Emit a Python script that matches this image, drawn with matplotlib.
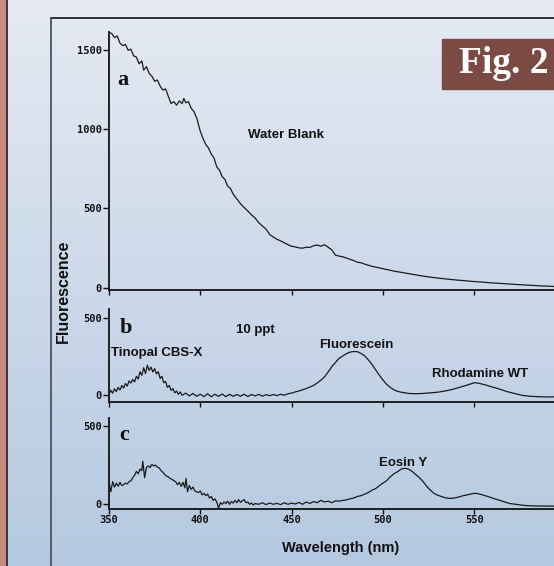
import numpy as np
import matplotlib
matplotlib.use('Agg')
import matplotlib.pyplot as plt
from matplotlib.patches import Rectangle
from matplotlib.lines import Line2D

W, H = 554, 566

# panel a: water blank
wl_a = [350, 351.5, 353, 354.5, 356, 357.5, 359, 360.5, 362, 363.5, 365, 366.5, 368, 369, 370.5,
        372, 373.5, 375, 376.5, 378, 379.5, 381, 382.5, 384, 385.5, 387, 388.5, 390, 391, 392,
        393.5, 395, 396.5, 398, 400, 401.5, 403, 404.5, 406, 407.5, 409, 410.5, 412, 413.5, 415,
        416.5, 418, 420, 422, 424, 426, 428, 430, 432, 434, 436, 438, 440, 442, 444, 446, 448,
        450, 452, 454, 456, 458, 460, 462, 464, 466, 468, 470, 472, 474, 476, 478, 480, 482,
        484, 486, 488, 490, 494, 498, 502, 506, 510, 514, 518, 522, 526, 530, 534, 538, 542,
        546, 550, 554, 558, 562, 566, 570, 574, 578, 582, 586, 590, 594, 600]
val_a = [1610, 1600, 1575, 1585, 1540, 1525, 1532, 1495, 1502, 1460, 1452, 1410, 1428, 1370, 1392,
         1350, 1332, 1300, 1308, 1270, 1245, 1252, 1205, 1160, 1172, 1150, 1176, 1160, 1192, 1165,
         1172, 1130, 1110, 1070, 985, 940, 902, 880, 842, 818, 762, 740, 700, 682, 640,
         626, 590, 560, 530, 506, 484, 460, 440, 410, 390, 370, 336, 320, 306, 296, 284, 272,
         262, 258, 252, 250, 256, 255, 265, 270, 262, 272, 256, 240, 206, 200, 196, 188, 180,
         172, 162, 158, 150, 136, 126, 116, 106, 98, 90, 82, 74, 68, 62, 57, 52, 48,
         44, 40, 37, 33, 30, 27, 24, 21, 18, 16, 13, 11, 9, 7]

# panel b: 10 ppt mixture
wl_b = [350, 351, 352, 353, 354, 355, 356, 357, 358, 359, 360, 361, 362, 363, 364, 365, 366, 367,
        368, 369, 370, 371, 372, 373, 374, 375, 376, 377, 378, 379, 380, 381, 382, 383, 384, 385,
        386, 387, 388, 389, 390, 392, 394, 396, 398, 400, 402, 404, 406, 408, 410, 412, 414, 416,
        418, 420, 422, 424, 426, 428, 430, 432, 434, 436, 438, 440, 442, 444, 446, 448, 450, 452,
        454, 456, 458, 460, 462, 464, 466, 468, 470, 472, 474, 476, 478, 480, 482, 484, 486, 488,
        490, 492, 494, 496, 498, 500, 502, 504, 506, 508, 510, 514, 518, 522, 526, 530, 534, 538,
        542, 546, 548, 550, 552, 556, 560, 564, 568, 572, 576, 580, 584, 590, 596]
val_b = [5, 30, 12, 40, 22, 50, 32, 62, 45, 75, 58, 92, 78, 102, 85, 122, 104, 152,
         128, 178, 140, 195, 160, 182, 150, 172, 138, 152, 108, 122, 80, 88, 50, 62, 30, 42,
         14, 26, 4, 20, -2, 12, -6, 10, -9, 5, -11, 8, -12, 5, -9, 6, -11, 4,
         -9, 3, -8, 5, -10, 3, -6, 4, -8, 2, -5, 3, -4, 5, -2, 8, 12, 20,
         26, 34, 42, 52, 62, 78, 96, 118, 150, 185, 212, 240, 254, 270, 280, 284, 283, 272,
         256, 230, 200, 165, 130, 98, 70, 50, 34, 24, 18, 10, 8, 10, 14, 18, 26, 36,
         50, 64, 72, 80, 78, 66, 52, 38, 22, 10, -2, -8, -11, -13, -12]

# panel c: eosin Y
wl_c = [350, 351, 352, 353, 354, 355, 356, 357, 358, 359, 360, 361, 362, 363, 364, 365, 366, 367,
        368, 368.5, 369.5, 370.5, 371.5, 372.5, 373.5, 374.5, 375.5, 376.5, 377.5, 378.5, 379.5,
        380.5, 381.5, 382.5, 383.5, 384.5, 385.5, 386.5, 387.5, 388.5, 389.5, 390.5, 391.5, 392.2,
        393, 394, 395, 396, 397, 398, 399, 400, 401, 402, 403, 404, 405, 406, 407, 408, 409, 410,
        411, 412, 413, 414, 415, 416, 417, 418, 419, 420, 421, 422, 423, 424, 425, 426, 427, 428,
        429, 430, 432, 434, 436, 438, 440, 442, 444, 446, 448, 450, 452, 454, 456, 458, 460, 462,
        464, 466, 468, 470, 472, 474, 476, 478, 480, 482, 484, 486, 488, 490, 492, 494, 496, 498,
        500, 502, 504, 506, 508, 510, 512, 514, 516, 518, 520, 522, 524, 526, 528, 530, 532, 534,
        536, 538, 540, 542, 544, 546, 548, 550, 552, 554, 556, 558, 560, 562, 564, 566, 568, 570,
        574, 578, 582, 586, 590, 596]
val_c = [140, 80, 145, 110, 135, 115, 140, 120, 125, 135, 130, 145, 150, 170, 185, 210, 195, 225,
         215, 275, 170, 235, 245, 235, 255, 245, 250, 238, 232, 215, 205,
         190, 180, 175, 165, 160, 150, 145, 125, 140, 115, 140, 105, 165,
         80, 120, 95, 110, 85, 80, 75, 85, 60, 70, 55, 65, 40, 50, 25, 35, 15, -25,
         10, 0, 15, 5, 20, 0, 18, 8, 25, 10, 30, 12, 22, 30, 10, 15, 0, 8,
         -5, 5, 0, 10, -2, 8, 0, 6, -2, 10, 0, 8, 2, 12, 0, 15, 5, 18,
         10, 25, 15, 20, 10, 22, 20, 25, 28, 35, 40, 50, 55, 65, 75, 90, 100, 118,
         135, 150, 175, 195, 208, 225, 230, 225, 210, 190, 170, 145, 115, 90, 70, 58, 50, 42,
         38, 38, 42, 48, 55, 60, 65, 70, 68, 62, 55, 48, 40, 32, 25, 18, 10, 4,
         -2, -8, -10, -11, -11, -12]

x_ticks = [350, 400, 450, 500, 550]


def fx(px):
    return px / W


def fy(py):
    return 1 - py / H


fig = plt.figure(figsize=(W / 100, H / 100), dpi=100)

# background gradient
bg = fig.add_axes([0, 0, 1, 1], zorder=-10)
grad = np.linspace(0, 1, 256).reshape(-1, 1)
top = np.array([229, 234, 243]) / 255
bot = np.array([180, 201, 224]) / 255
img = top + (bot - top) * grad[:, :, None]
bg.imshow(img, aspect='auto', extent=[0, 1, 0, 1])
bg.add_patch(Rectangle((0, 0), fx(6), 1, color='#c98a80', zorder=2))
bg.axvline(fx(6.5), color='#222222', lw=1.2, zorder=3)
bg.set_xlim(0, 1)
bg.set_ylim(0, 1)
bg.axis('off')

# frame lines
fig.add_artist(Line2D([fx(51), 1], [fy(18), fy(18)], color='#111111', lw=1.2))
fig.add_artist(Line2D([fx(51), fx(51)], [fy(18), 0], color='#4a5360', lw=1.3))

# data, bottom and top pixel rows, ylim, yticks per panel
specs = [
    (wl_a, val_a, 289.5, 31.7, (-10, 1612), [0, 500, 1000, 1500]),
    (wl_b, val_b, 401.7, 309.3, (-44, 560), [0, 500]),
    (wl_c, val_c, 509.0, 418.3, (-30, 549), [0, 500]),
]
x_left = 109
x_right = 109 + 250 * 1.826

for i, (wl, val, ybot, ytop, ylim, yt) in enumerate(specs):
    ax = fig.add_axes([fx(x_left), fy(ybot), fx(x_right) - fx(x_left), (ybot - ytop) / H])
    ax.set_facecolor('none')
    ax.plot(wl, val, color='#1a1a1a', lw=0.9)
    ax.set_xlim(350, 600)
    ax.set_ylim(*ylim)
    for s in ['top', 'right']:
        ax.spines[s].set_visible(False)
    for s in ['left', 'bottom']:
        ax.spines[s].set_linewidth(1.3)
        ax.spines[s].set_color('#111111')
    ax.set_yticks(yt)
    ax.set_yticklabels([str(v) for v in yt], family='DejaVu Sans Mono', weight='bold', fontsize=7.5)
    ax.set_xticks(x_ticks)
    if i < 2:
        ax.set_xticklabels([])
    else:
        ax.set_xticklabels([str(v) for v in x_ticks], family='DejaVu Sans Mono', weight='bold', fontsize=7.5)
    ax.tick_params(axis='y', length=4.5, width=1, pad=0.5, colors='#111111')
    ax.tick_params(axis='x', length=3.5, width=1, pad=1, colors='#111111')

serif = dict(family='Liberation Serif', weight='bold', color='#111111')
sans = dict(family='Liberation Sans', weight='bold', color='#111111')

fig.text(fx(122.5), fy(85), 'a', fontsize=16, ha='center', va='baseline', **serif)
fig.text(fx(126), fy(333), 'b', fontsize=16, ha='center', va='baseline', **serif)
fig.text(fx(124), fy(440), 'c', fontsize=16, ha='center', va='baseline', **serif)

fig.text(fx(285.5), fy(137.5), 'Water Blank', fontsize=9.5, ha='center', va='baseline', **sans)
fig.text(fx(255.5), fy(333.3), '10 ppt', fontsize=9.5, ha='center', va='baseline', **sans)
fig.text(fx(156.8), fy(356), 'Tinopal CBS-X', fontsize=9.5, ha='center', va='baseline', **sans)
fig.text(fx(356.7), fy(348.3), 'Fluorescein', fontsize=9.5, ha='center', va='baseline', **sans)
fig.text(fx(479.7), fy(376.7), 'Rhodamine WT', fontsize=9.5, ha='center', va='baseline', **sans)
fig.text(fx(403), fy(465.7), 'Eosin Y', fontsize=9.5, ha='center', va='baseline', **sans)

fig.text(fx(340.5), fy(552), 'Wavelength (nm)', fontsize=10.5, ha='center', va='baseline', **sans)
fig.text(fx(63), fy(291), 'Fluorescence', fontsize=11.5, ha='center', va='center', rotation=90, **sans)

# Fig. 2 label
fig.add_artist(Rectangle((fx(442), fy(89.3)), 1 - fx(442), (89.3 - 39) / H,
                         transform=fig.transFigure, color='#7b4a42', zorder=5))
fig.text(fx(504), fy(73.3), 'Fig. 2', fontsize=27, ha='center', va='baseline',
         family='Liberation Serif', weight='bold', color='white', zorder=6)

plt.savefig('out.png', dpi=100)
